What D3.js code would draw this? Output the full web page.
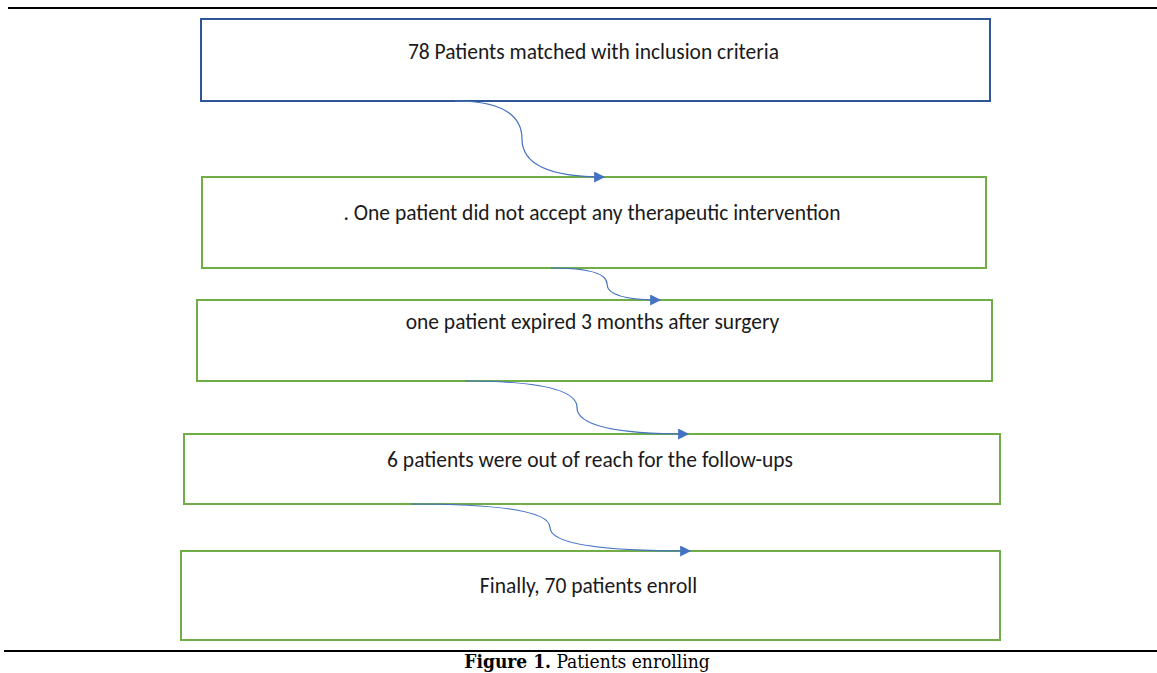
<!DOCTYPE html>
<html>
<head>
<meta charset="utf-8">
<script src="https://cdn.jsdelivr.net/npm/d3@7"></script>
<style>
  body { margin: 0; background: #fff; }
  svg { display: block; }
</style>
</head>
<body>
<svg id="chart" width="1157" height="673"></svg>
<script>
// flowchart steps (text of each box)
var steps = [
  "78 Patients matched with inclusion criteria",
  ". One patient did not accept any therapeutic intervention",
  "one patient expired 3 months after surgery",
  "6 patients were out of reach for the follow-ups",
  "Finally, 70 patients enroll"
];
var stepColors = ["#2f5597", "#70ad47", "#70ad47", "#70ad47", "#70ad47"];

// box layout
var boxes = [
  {x0: 201, x1: 990, y0: 19, y1: 101, ty: 59},
  {x0: 202, x1: 986, y0: 177, y1: 268, ty: 220},
  {x0: 197, x1: 992, y0: 300, y1: 381, ty: 329},
  {x0: 184, x1: 1000, y0: 434, y1: 504, ty: 467},
  {x0: 181, x1: 1000, y0: 551, y1: 640, ty: 593}
];
// connectors: start x at bottom of box i, bend x, end x at top of box i+1
var links = [
  {sx: 455, mx: 522, ex: 604},
  {sx: 551, mx: 607, ex: 660},
  {sx: 465, mx: 577, ex: 688},
  {sx: 411, mx: 550, ex: 690}
];

var svg = d3.select("#chart");

svg.append("defs").append("marker")
    .attr("id", "head")
    .attr("viewBox", "0 0 10 10")
    .attr("refX", 9).attr("refY", 5)
    .attr("markerWidth", 12).attr("markerHeight", 11)
    .attr("markerUnits", "userSpaceOnUse")
    .attr("orient", "auto")
  .append("path")
    .attr("d", "M0,0 L10,5 L0,10 Z")
    .attr("fill", "#4472c4");

// rules top and bottom
svg.append("line").attr("x1", 8).attr("x2", 1157).attr("y1", 8).attr("y2", 8)
    .attr("stroke", "#000").attr("stroke-width", 2);
svg.append("line").attr("x1", 4).attr("x2", 1157).attr("y1", 651).attr("y2", 651)
    .attr("stroke", "#000").attr("stroke-width", 2);

var g = svg.append("g");

g.selectAll("rect.box")
  .data(steps)
  .enter().append("rect")
    .attr("class", "box")
    .attr("x", function(d, i){ return boxes[i].x0; })
    .attr("y", function(d, i){ return boxes[i].y0; })
    .attr("width", function(d, i){ return boxes[i].x1 - boxes[i].x0; })
    .attr("height", function(d, i){ return boxes[i].y1 - boxes[i].y0; })
    .attr("fill", "none")
    .attr("stroke", function(d, i){ return stepColors[i]; })
    .attr("stroke-width", 2);

g.selectAll("text.label")
  .data(steps)
  .enter().append("text")
    .attr("class", "label")
    .attr("x", function(d, i){ return (boxes[i].x0 + boxes[i].x1) / 2 - 2; })
    .attr("y", function(d, i){ return boxes[i].ty; })
    .attr("text-anchor", "middle")
    .style("font-family", "Carlito, Lato, 'Open Sans', sans-serif")
    .style("font-size", "21.5px")
    .style("fill", "#1a1a1a")
    .text(function(d){ return d; });

// curved connectors (S-bend, horizontal at both ends)
g.selectAll("path.link")
  .data(links)
  .enter().append("path")
    .attr("class", "link")
    .attr("d", function(d, i){
      var y0 = boxes[i].y1, y1 = boxes[i + 1].y0, ym = (y0 + y1) / 2;
      var p = d3.path();
      p.moveTo(d.sx, y0);
      p.quadraticCurveTo(d.mx, y0, d.mx, ym);
      p.quadraticCurveTo(d.mx, y1, d.ex, y1);
      return p.toString();
    })
    .attr("fill", "none")
    .attr("stroke", "#4472c4")
    .attr("stroke-width", 1.2)
    .attr("marker-end", "url(#head)");

// caption (sits right at the bottom edge, as in the source)
var cap = svg.append("text")
    .attr("x", 587).attr("y", 668)
    .attr("text-anchor", "middle")
    .style("font-family", "'DejaVu Serif Condensed', 'DejaVu Serif', serif")
    .style("font-stretch", "condensed")
    .style("font-size", "19px")
    .style("fill", "#000");
cap.append("tspan").style("font-weight", "bold").text("Figure 1.");
cap.append("tspan").text(" Patients enrolling");
</script>
</body>
</html>
